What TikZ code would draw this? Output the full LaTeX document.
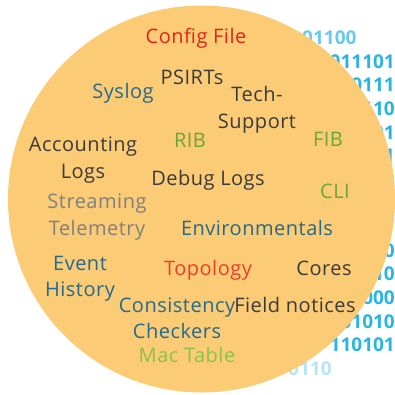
\documentclass[tikz,border=0pt]{standalone}
\usepackage{fontspec}
\setmainfont{Open Sans}[LetterSpace=2.5]
\newfontfamily\bitsfont{Open Sans}
\usepackage{xcolor}
\definecolor{circfill}{RGB}{252,203,117}
\definecolor{cfgred}{RGB}{226,35,26}
\definecolor{topored}{RGB}{232,64,40}
\definecolor{darktxt}{RGB}{58,58,58}
\definecolor{tealtxt}{RGB}{37,105,140}
\definecolor{greentxt}{RGB}{106,164,58}
\definecolor{lightgreen}{RGB}{139,195,74}
\definecolor{graytxt}{RGB}{128,128,128}
\definecolor{bitcyan}{RGB}{41,180,230}

\begin{document}
\begin{tikzpicture}[x=1pt,y=-1pt,
  lbl/.style={inner sep=0pt,align=center,font=\fontsize{20}{26.5}\selectfont},
  bits/.style={inner sep=0pt,text=bitcyan,font=\bitsfont\fontsize{19}{24}\selectfont\bfseries}]
  \useasboundingbox (0,0) rectangle (395,394);
  % binary digits behind the circle
  \node[bits,anchor=west,opacity=0.7] (btop) at (302,38) {01100};
  \foreach \yy/\str in {61.6/011101, 85.2/00111, 108.8/0110, 132.4/101, 156/01, 179.6/10,
      203.2/10, 226.8/01, 250.4/10, 274/110, 297.6/0000, 321.2/01010, 344.8/110101}{
    \node[bits,anchor=east] (b\yy) at (395,\yy) {\str};
  }
  \node[bits,anchor=west,opacity=0.35] (bbot) at (288,368.4) {0110};
  \fill[circfill] (201.5,199) circle (193.5pt);
  % labels
  \node[lbl,text=cfgred] (config) at (196,38) {Config File};
  \node[lbl,text=darktxt] (psirts) at (192,77) {PSIRTs};
  \node[lbl,text=tealtxt] (syslog) at (123,93) {Syslog};
  \node[lbl,text=darktxt] (techsup) at (257,110) {Tech-\\Support};
  \node[lbl,text=greentxt] (rib) at (190,140) {RIB};
  \node[lbl,text=greentxt] (fib) at (328,139) {FIB};
  \node[lbl,text=darktxt] (acclogs) at (83,160) {Accounting\\Logs};
  \node[lbl,text=darktxt] (debug) at (208,180) {Debug Logs};
  \node[lbl,text=greentxt] (cli) at (335,191) {CLI};
  \node[lbl,text=graytxt] (streaming) at (97,217) {Streaming\\Telemetry};
  \node[lbl,text=tealtxt] (environ) at (257,228) {Environmentals};
  \node[lbl,text=tealtxt] (event) at (80,279) {Event\\History};
  \node[lbl,text=topored] (topology) at (208,270) {Topology};
  \node[lbl,text=darktxt] (cores) at (324,268) {Cores};
  \node[lbl,text=tealtxt] (consist) at (177,318) {Consistency\\Checkers};
  \node[lbl,text=darktxt] (fieldnot) at (295,305) {Field notices};
  \node[lbl,text=lightgreen] (mactable) at (187,355) {Mac Table};
\end{tikzpicture}
\end{document}
